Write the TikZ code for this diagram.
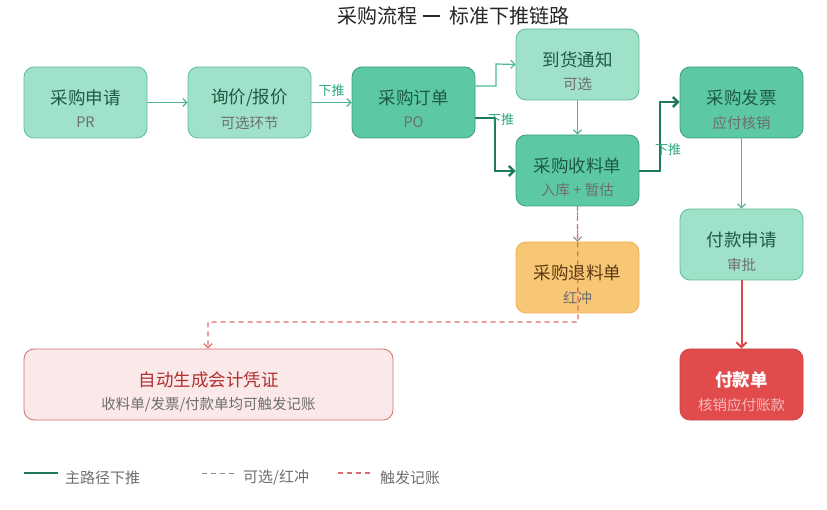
\documentclass[tikz,border=0pt]{standalone}
\usepackage{fontspec}
\setmainfont{Noto Sans CJK SC}
\usetikzlibrary{arrows.meta}
\definecolor{lightfill}{HTML}{A0E1C9}
\definecolor{lightdraw}{HTML}{5DBD98}
\definecolor{midfill}{HTML}{5CC9A3}
\definecolor{middraw}{HTML}{3F9E7A}
\definecolor{titlegreen}{HTML}{1D5A43}
\definecolor{subgray}{HTML}{6E6E6E}
\definecolor{thinarrow}{HTML}{4DB88F}
\definecolor{mainpath}{HTML}{1E7A5A}
\definecolor{pushlabel}{HTML}{2AA87A}
\definecolor{orangefill}{HTML}{F8C776}
\definecolor{orangedraw}{HTML}{F0B050}
\definecolor{browntext}{HTML}{5A3A10}
\definecolor{redfill}{HTML}{E24B4B}
\definecolor{reddraw}{HTML}{C84545}
\definecolor{redsub}{HTML}{F7B8B8}
\definecolor{pinkfill}{HTML}{FBE9E9}
\definecolor{pinkdraw}{HTML}{D07070}
\definecolor{pinktext}{HTML}{B03030}
\definecolor{trigger}{HTML}{E06A6A}
\definecolor{redline}{HTML}{E04848}
\definecolor{optgray}{HTML}{888888}
\tikzset{
  x=1pt, y=-1pt,
  box/.style={rounded corners=10pt, minimum width=123pt, minimum height=71pt, line width=0.8pt, inner sep=0pt},
  lightbox/.style={box, fill=lightfill, draw=lightdraw},
  midbox/.style={box, fill=midfill, draw=middraw},
  ttl/.style={font=\fontsize{17.5}{20}\selectfont, text=titlegreen, inner sep=0pt},
  subt/.style={font=\fontsize{14.5}{16}\selectfont, text=subgray, inner sep=0pt},
  thin/.style={draw=thinarrow, line width=1.2pt, -{Straight Barb[length=4pt,width=8pt]}},
  mainarr/.style={draw=mainpath, line width=2.4pt, -{Straight Barb[length=5pt,width=10pt]}},
  pushlbl/.style={text=pushlabel, font=\fontsize{13}{15}\selectfont, inner sep=0pt},
  legtext/.style={text=subgray, font=\fontsize{15}{17}\selectfont, anchor=west, inner sep=0pt}
}
% \card{name}{x}{y}{box style}{title style}{title}{sub style}{sub}
\newcommand{\card}[8]{%
  \node[#4] (#1) at (#2,#3) {};
  \node[ttl, #5] (#1-t) at ([yshift=4.5pt]#1.center) {#6};
  \node[subt, #7] (#1-s) at ([yshift=-20pt]#1.center) {#8};
}
\begin{document}
\begin{tikzpicture}
\useasboundingbox (0,0) rectangle (827,510);
\node[font=\fontsize{20}{24}\selectfont, text=black!85] (title) at (453,16) {采购流程\hspace{6pt}\rule[6.5pt]{17pt}{1.8pt}\hspace{9pt}标准下推链路};

\card{pr}{85.5}{102.5}{lightbox}{}{采购申请}{}{PR}
\card{rfq}{249.5}{102.5}{lightbox}{}{询价/报价}{}{可选环节}
\card{po}{413.5}{102.5}{midbox}{}{采购订单}{}{PO}
\card{asn}{577.5}{64.5}{lightbox}{}{到货通知}{}{可选}
\card{rcv}{577.5}{170.5}{midbox}{}{采购收料单}{}{入库 + 暂估}
\card{inv}{741.5}{102.5}{midbox}{}{采购发票}{}{应付核销}
\card{payreq}{741.5}{244.5}{lightbox}{}{付款申请}{}{审批}
\card{pay}{741.5}{384.5}{box, fill=redfill, draw=reddraw}{text=white, font=\fontsize{17.5}{20}\selectfont\bfseries}{付款单}{text=redsub}{核销应付账款}
\card{ret}{577.5}{277.5}{box, fill=orangefill, draw=orangedraw}{text=browntext}{采购退料单}{}{红冲}

% connectors
\draw[thin] (pr.east) -- (rfq.west);
\draw[thin] (rfq.east) -- node[pushlbl, above=5pt] (l1) {下推} (po.west);
\draw[thin] (po.east |- 0,86) -- (496,86) -- (496,64) -- (asn.west);
\draw[mainarr] (po.east |- 0,118) -- (495,118) -- (495,171) -- (rcv.west |- 0,171);
\node[pushlbl] (l2) at (501,120) {下推};
\draw[thin] (asn.south) -- (rcv.north);
\draw[mainarr] (rcv.east |- 0,171) -- (660,171) -- (660,102) -- (inv.west |- 0,102);
\node[pushlbl] (l3) at (668,150) {下推};
\draw[thin] (inv.south) -- (payreq.north);
\draw[draw=redline, line width=2pt, -{Straight Barb[length=5pt,width=10pt]}] (payreq.south) -- (pay.north);

\draw[draw=optgray, line width=1pt, dashed, -{Straight Barb[length=4pt,width=8pt]}] (rcv.south) -- (ret.north);

\card{gl}{208.5}{384.5}{box, minimum width=369pt, fill=pinkfill, draw=pinkdraw}{text=pinktext}{自动生成会计凭证}{}{收料单/发票/付款单均可触发记账}

\coordinate (tr1) at (578,322);
\coordinate (tr2) at (208,322);
\draw[draw=trigger, line width=1.3pt, dash pattern=on 5pt off 4pt, -{Straight Barb[length=4pt,width=8pt]}] (rcv.south) -- (tr1) -- (tr2) -- (gl.north -| tr2);

% legend
\coordinate (a1) at (24,473); \coordinate (a2) at (58,473);
\draw[draw=mainpath, line width=2.2pt] (a1) -- (a2);
\node[legtext] (lt1) at (65,478) {主路径下推};
\coordinate (b1) at (202,473); \coordinate (b2) at (236,473);
\draw[draw=optgray, line width=1pt, dash pattern=on 5pt off 4pt] (b1) -- (b2);
\node[legtext] (lt2) at (243,478) {可选/红冲};
\coordinate (c1) at (338,473); \coordinate (c2) at (373,473);
\draw[draw=trigger, line width=1.3pt, dash pattern=on 5pt off 4pt] (c1) -- (c2);
\node[legtext] (lt3) at (380,478) {触发记账};
\end{tikzpicture}
\end{document}
